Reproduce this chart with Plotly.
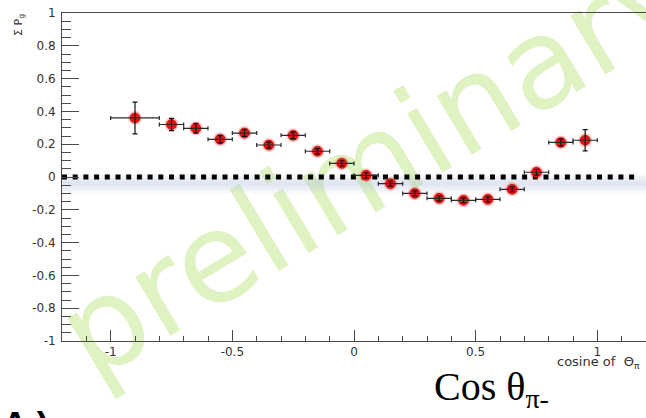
import plotly.graph_objects as go

# Beam-asymmetry points per cos(theta) bin
cos_theta = [-0.9, -0.75, -0.65, -0.55, -0.45, -0.35, -0.25, -0.15, -0.05,
             0.05, 0.15, 0.25, 0.35, 0.45, 0.55, 0.65, 0.75, 0.85, 0.95]
sigma_pg = [0.36, 0.32, 0.297, 0.23, 0.268, 0.195, 0.254, 0.157, 0.083,
            0.01, -0.041, -0.10, -0.13, -0.142, -0.136, -0.075, 0.029, 0.211, 0.224]
bin_half_width = [0.1, 0.05, 0.05, 0.05, 0.05, 0.05, 0.05, 0.05, 0.05,
                  0.05, 0.05, 0.05, 0.05, 0.05, 0.05, 0.05, 0.05, 0.05, 0.05]
sigma_err = [0.097, 0.037, 0.03, 0.022, 0.02, 0.018, 0.02, 0.016, 0.016,
             0.016, 0.015, 0.015, 0.015, 0.015, 0.015, 0.015, 0.018, 0.02, 0.065]

# Zero reference line
zero_x = [-1.2, 1.16]
zero_y = [0, 0]

# Axis ticks
x_ticks = [-1, -0.5, 0, 0.5, 1]
x_tick_text = ["-1", "-0.5", "0", "0.5", "1"]
y_ticks = [-1, -0.8, -0.6, -0.4, -0.2, 0, 0.2, 0.4, 0.6, 0.8, 1]
y_tick_text = ["-1", "-0.8", "-0.6", "-0.4", "-0.2", "0", "0.2", "0.4", "0.6", "0.8", "1"]

AX = "#4a4a4a"
TICKFONT = dict(family="DejaVu Sans", size=12, color="#333333")

fig = go.Figure()

fig.add_trace(go.Scatter(
    x=zero_x, y=zero_y, mode="lines",
    line=dict(color="black", width=5, dash="5px,5.7px"),
    hoverinfo="skip"))

# soft halo + marker body
fig.add_trace(go.Scatter(
    x=cos_theta, y=sigma_pg, mode="markers",
    marker=dict(size=14, color="rgba(255,40,40,0.25)", line=dict(width=0)),
    hoverinfo="skip"))
fig.add_trace(go.Scatter(
    x=cos_theta, y=sigma_pg, mode="markers",
    marker=dict(size=10, color="#f21212", line=dict(width=1, color="rgba(170,0,0,0.6)")),
    hoverinfo="skip"))
# error bars drawn on top of the markers
fig.add_trace(go.Scatter(
    x=cos_theta, y=sigma_pg, mode="markers",
    marker=dict(size=1, opacity=0),
    error_x=dict(type="data", array=bin_half_width, color="#2a2a2a", thickness=1.2, width=2),
    error_y=dict(type="data", array=sigma_err, color="#111111", thickness=1.2, width=2.5),
    hoverinfo="skip"))

# grey haze beneath the zero line
for half, op in [(0.06, 0.1), (0.045, 0.12), (0.03, 0.12), (0.015, 0.12)]:
    fig.add_shape(type="rect", xref="x", yref="y", x0=-1.2, x1=1.2,
                  y0=-0.04 - half, y1=-0.04 + half,
                  fillcolor="rgb(185,195,218)", opacity=op, line=dict(width=0),
                  layer="below")

# watermark
fig.add_shape(type="rect", xref="paper", yref="paper",
              x0=0.399, x1=0.659, y0=0.47, y1=0.67,
              fillcolor="rgba(0,0,0,0)", line=dict(width=0), layer="below",
              label=dict(text="preliminary", textangle=-31, textposition="middle center",
                         font=dict(family="DejaVu Sans", size=125, color="rgb(222,242,194)")))

fig.update_xaxes(
    range=[-1.2, 1.2], showline=True, linecolor=AX, linewidth=1, mirror=True,
    ticks="inside", ticklen=11, tickwidth=1, tickcolor=AX,
    tickvals=x_ticks, ticktext=x_tick_text, tickfont=TICKFONT,
    minor=dict(ticks="inside", ticklen=5, dtick=0.1, tickcolor=AX, tickwidth=1),
    showgrid=False, zeroline=False)
fig.update_yaxes(
    range=[-1, 1], showline=True, linecolor=AX, linewidth=1,
    ticks="inside", ticklen=17, tickwidth=1, tickcolor=AX,
    tickvals=y_ticks, ticktext=y_tick_text, tickfont=TICKFONT, ticklabelstandoff=3,
    minor=dict(ticks="inside", ticklen=9, dtick=0.05, tickcolor=AX, tickwidth=1),
    showgrid=False, zeroline=False)

fig.add_annotation(text="Σ P<sub>g</sub>", xref="paper", yref="paper",
                   x=-0.074, y=0.963, textangle=-90, showarrow=False,
                   xanchor="center", yanchor="middle",
                   font=dict(family="DejaVu Sans", size=11, color="#333333"))
fig.add_annotation(text="cosine of  Θ<sub>π</sub>", xref="paper", yref="paper",
                   x=0.845, y=-0.067, xanchor="left", yanchor="middle", showarrow=False,
                   font=dict(family="DejaVu Sans", size=13, color="#333333"))
fig.add_annotation(text="Cos θ<sub>π-</sub>", xref="paper", yref="paper",
                   x=0.633, y=-0.229, xanchor="left", yanchor="bottom", showarrow=False,
                   font=dict(family="Liberation Serif", size=40, color="black"))
fig.add_annotation(text="<b>A )</b>", xref="paper", yref="paper",
                   x=-0.106, y=-0.19, xanchor="left", yanchor="top", showarrow=False,
                   font=dict(family="Liberation Sans", size=36, color="black"))

fig.update_layout(
    width=646, height=418,
    margin=dict(l=62, r=0, t=13, b=77),
    paper_bgcolor="white", plot_bgcolor="white",
    showlegend=False)

fig.write_html("out.html")
